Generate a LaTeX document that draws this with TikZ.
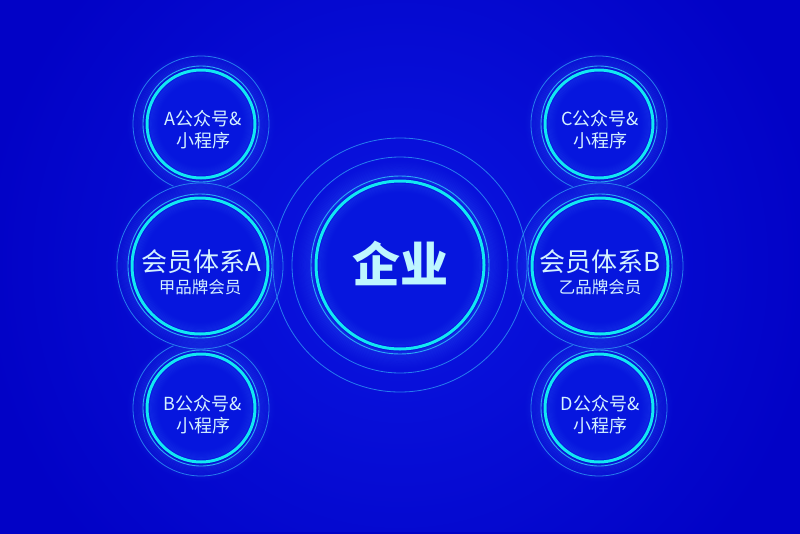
\documentclass[tikz,border=0pt]{standalone}
\usepackage{fontspec}
\newfontfamily\cjk{Noto Sans CJK SC}
\definecolor{bgc}{HTML}{0202C6}
\definecolor{bgmid}{HTML}{0A16E2}
\definecolor{ringc}{HTML}{12E8F2}
\definecolor{thinc}{HTML}{2AAAF6}
\definecolor{outc}{HTML}{2C90F2}
\definecolor{glowc}{HTML}{3C72FF}
\definecolor{diskc}{HTML}{0616DE}
\definecolor{txtc}{HTML}{D4F2FF}
\definecolor{bigtxt}{HTML}{BEF6FF}
\tikzset{
  ringnode/.style={circle, draw=ringc, line width=3pt, inner sep=0pt, fill=none, minimum size=#1},
  thinring/.style={draw=thinc, line width=0.9pt},
  outring/.style={draw=outc, line width=0.8pt, opacity=0.85},
  lbl/.style={font=\cjk, text=txtc, inner sep=0pt},
}
\newcommand\halo[2]{%
  \foreach \i [evaluate=\i as \op using 0.20*(1-\i/17),
               evaluate=\i as \rr using #2+2+\i*1.1] in {1,...,16}{
    \draw[glowc, line width=1.3pt, opacity=\op] (#1) circle[radius=\rr];
  }%
  \foreach \i [evaluate=\i as \op using 0.16*(1-\i/9),
               evaluate=\i as \rr using #2-2-\i*1.1] in {1,...,8}{
    \draw[glowc, line width=1.3pt, opacity=\op] (#1) circle[radius=\rr];
  }%
}
\begin{document}
\begin{tikzpicture}[x=1pt,y=-1pt]
\useasboundingbox (0,0) rectangle (800,533);
\fill[bgc] (-5,-5) rectangle (805,540);
\begin{scope}
  \clip (-5,-5) rectangle (805,531);
  \shade[inner color=bgmid, outer color=bgc] (400,265) circle[radius=420];
\end{scope}

% coordinates of the bubbles
\coordinate (cC) at (400,265);
\coordinate (cMA) at (200,266);
\coordinate (cMB) at (600,266);
\coordinate (cSA) at (201,124);
\coordinate (cSB) at (201,408);
\coordinate (cSC) at (599,124);
\coordinate (cSD) at (599,408);

% small bubbles
\foreach \n in {cSA,cSB,cSC,cSD}{
  \fill[diskc] (\n) circle[radius=54];
  \halo{\n}{54}
  \draw[thinring] (\n) circle[radius=58];
}
\begin{scope}[even odd rule]
  \clip (-5,-5) rectangle (805,540) (cMA) circle[radius=84] (cMB) circle[radius=84];
  \foreach \n in {cSA,cSB,cSC,cSD}{
    \draw[outring] (\n) circle[radius=68];
  }
\end{scope}
\node[ringnode=108pt] (sA) at (cSA) {};
\node[ringnode=108pt] (sB) at (cSB) {};
\node[ringnode=108pt] (sC) at (cSC) {};
\node[ringnode=108pt] (sD) at (cSD) {};

% centre bubble
\fill[diskc] (cC) circle[radius=84];
\halo{cC}{84}
\draw[outring] (cC) circle[radius=127];
\draw[outring] (cC) circle[radius=108];
\draw[thinring] (cC) circle[radius=89];
\node[ringnode=168pt] (core) at (cC) {};

% member bubbles
\foreach \n in {cMA,cMB}{
  \fill[diskc] (\n) circle[radius=68];
  \halo{\n}{68}
  \draw[outring] (\n) circle[radius=83];
  \draw[thinring] (\n) circle[radius=72];
}
\node[ringnode=136pt] (mA) at (cMA) {};
\node[ringnode=136pt] (mB) at (cMB) {};

% texts
\node[lbl, text=bigtxt, font=\cjk\fontsize{48}{52}\selectfont\bfseries] (tcore) at (400,263) {企业};

\node[lbl, font=\cjk\fontsize{26}{30}\selectfont] (tmA1) at (201,262) {会员体系A};
\node[lbl, font=\cjk\fontsize{16.5}{20}\selectfont] (tmA2) at (200,287) {甲品牌会员};
\node[lbl, font=\cjk\fontsize{26}{30}\selectfont] (tmB1) at (600,262) {会员体系B};
\node[lbl, font=\cjk\fontsize{16.5}{20}\selectfont] (tmB2) at (600,287) {乙品牌会员};

\node[lbl, font=\cjk\fontsize{18}{22}\selectfont] (tsA1) at (203,118.5) {A公众号\&};
\node[lbl, font=\cjk\fontsize{18}{22}\selectfont] (tsA2) at (203,141) {小程序};
\node[lbl, font=\cjk\fontsize{18}{22}\selectfont] (tsB1) at (203,403.5) {B公众号\&};
\node[lbl, font=\cjk\fontsize{18}{22}\selectfont] (tsB2) at (203,426) {小程序};
\node[lbl, font=\cjk\fontsize{18}{22}\selectfont] (tsC1) at (600,118.5) {C公众号\&};
\node[lbl, font=\cjk\fontsize{18}{22}\selectfont] (tsC2) at (600,141) {小程序};
\node[lbl, font=\cjk\fontsize{18}{22}\selectfont] (tsD1) at (600,403.5) {D公众号\&};
\node[lbl, font=\cjk\fontsize{18}{22}\selectfont] (tsD2) at (600,426) {小程序};
\end{tikzpicture}
\end{document}
